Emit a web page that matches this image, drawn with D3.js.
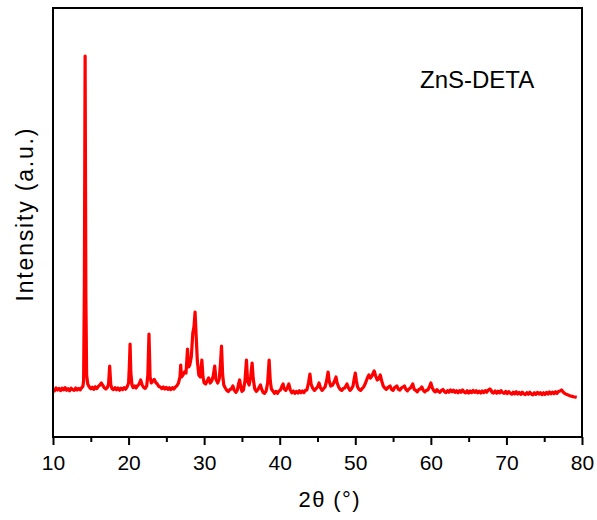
<!DOCTYPE html>
<html>
<head>
<meta charset="utf-8">
<script src="https://cdn.jsdelivr.net/npm/d3@7"></script>
<style>
  html, body { margin: 0; padding: 0; background: #fff; }
  svg { display: block; }
  text { font-family: "Liberation Sans", Arial, Helvetica, sans-serif; fill: #000; }
</style>
</head>
<body>
<svg id="chart" width="597" height="520"></svg>
<script>
// ---- Data (2θ in degrees, intensity in arbitrary units) ----
const seg10to20 = [
  [10.0,478],[10.2,462],[10.4,490],[10.6,470],[10.8,486],[11.0,464],[11.2,488],[11.4,472],[11.6,494],[11.8,468],
  [12.0,484],[12.2,462],[12.4,488],[12.6,474],[12.8,466],[13.0,490],[13.2,470],[13.4,486],[13.6,472],[13.8,494],
  [13.95,505],[14.05,560],[14.15,1500],[14.25,3810],[14.35,1400],[14.45,620],[14.6,530],[14.8,500],[15.0,482],
  [15.2,498],[15.4,476],[15.6,502],[15.8,484],[16.0,506],[16.2,520],[16.4,540],[16.6,515],[16.8,492],[17.0,480],
  [17.2,496],[17.35,530],[17.5,710],[17.65,520],[17.8,484],[18.0,474],[18.2,494],[18.4,472],[18.6,490],[18.8,468],
  [19.0,488],[19.2,474],[19.4,494],[19.6,478],[19.8,500]
];
const seg20to30 = [
  [20.0,540],[20.1,700],[20.2,930],[20.3,640],[20.45,520],[20.6,494],[20.8,510],[21.0,490],[21.2,514],[21.4,530],
  [21.6,570],[21.8,520],[22.0,496],[22.2,486],[22.4,510],[22.55,620],[22.7,1030],[22.85,600],[23.0,540],[23.2,560],
  [23.4,575],[23.6,545],[23.8,530],[24.0,506],[24.2,500],[24.4,484],[24.6,500],[24.8,480],[25.0,496],[25.2,476],
  [25.4,492],[25.6,474],[25.8,494],[26.0,480],[26.2,500],[26.4,512],[26.6,540],[26.8,600],[26.9,720],[27.0,600],
  [27.2,620],[27.4,650],[27.6,640],[27.8,880],[27.95,700],[28.1,720],[28.3,800],[28.5,1040],[28.65,1100],[28.8,1250],
  [28.95,1000],[29.1,760],[29.3,620],[29.5,600],[29.7,770],[29.85,600]
];
const seg30to45 = [
  [30.0,540],[30.2,530],[30.4,560],[30.6,590],[30.8,540],[31.0,560],[31.2,610],[31.4,710],[31.55,580],[31.8,540],
  [32.0,580],[32.15,720],[32.3,910],[32.45,620],[32.6,520],[32.8,490],[33.0,466],[33.2,454],[33.4,474],[33.6,480],
  [33.8,510],[34.0,466],[34.2,446],[34.4,470],[34.55,530],[34.7,570],[34.85,500],[35.0,456],[35.2,470],[35.4,560],
  [35.6,770],[35.75,560],[35.95,520],[36.15,600],[36.35,740],[36.5,580],[36.7,480],[36.9,456],[37.1,474],[37.3,500],
  [37.45,520],[37.6,480],[37.8,446],[38.0,436],[38.2,460],[38.4,540],[38.6,770],[38.75,560],[38.9,480],[39.1,460],
  [39.3,436],[39.5,456],[39.7,436],[39.9,460],[40.1,470],[40.3,510],[40.45,530],[40.6,480],[40.8,466],[41.0,490],
  [41.2,530],[41.4,470],[41.6,442],[41.8,460],[42.0,436],[42.2,456],[42.4,440],[42.6,462],[42.8,442],[43.0,460],
  [43.2,444],[43.4,466],[43.6,470],[43.8,540],[44.0,630],[44.15,530],[44.35,490],[44.6,466],[44.8,484]
];
const seg45to60 = [
  [45.0,500],[45.2,540],[45.4,490],[45.6,466],[45.8,484],[46.0,500],[46.2,560],[46.4,650],[46.55,560],[46.75,510],
  [47.0,520],[47.2,550],[47.45,600],[47.6,540],[47.8,500],[48.0,476],[48.2,466],[48.4,484],[48.6,490],[48.9,530],
  [49.1,490],[49.3,466],[49.5,484],[49.7,510],[49.85,580],[50.0,640],[50.15,560],[50.3,500],[50.5,476],[50.7,466],
  [50.9,484],[51.1,500],[51.3,530],[51.6,590],[51.8,620],[52.0,590],[52.2,610],[52.5,660],[52.7,610],[52.9,570],
  [53.1,580],[53.3,620],[53.5,560],[53.7,510],[53.9,490],[54.1,476],[54.3,494],[54.6,510],[54.8,476],[55.0,466],
  [55.2,494],[55.5,510],[55.7,476],[55.9,468],[56.1,490],[56.3,500],[56.5,510],[56.7,476],[56.9,462],[57.1,480],
  [57.3,490],[57.6,530],[57.8,476],[58.0,466],[58.2,452],[58.4,474],[58.6,480],[58.8,500],[59.0,466],[59.2,452],
  [59.4,466],[59.6,470],[59.8,500]
];
const seg60to80 = [
  [60.0,540],[60.2,490],[60.4,462],[60.6,452],[60.8,474],[61.0,456],[61.2,446],[61.4,466],[61.6,475],[61.8,454],
  [62.0,444],[62.2,464],[62.4,448],[62.6,470],[62.8,452],[63.0,468],[63.2,446],[63.4,462],[63.6,442],[63.8,464],
  [64.0,448],[64.2,470],[64.4,450],[64.6,442],[64.8,462],[65.0,440],[65.2,460],[65.4,444],[65.6,466],[65.8,446],
  [66.0,462],[66.2,442],[66.4,458],[66.6,440],[66.8,460],[67.0,444],[67.2,464],[67.4,448],[67.6,470],[67.8,480],
  [67.95,470],[68.1,446],[68.3,440],[68.5,460],[68.7,438],[68.9,458],[69.1,442],[69.3,464],[69.5,444],[69.7,436],
  [69.9,456],[70.1,434],[70.3,454],[70.5,438],[70.7,428],[70.9,448],[71.1,432],[71.3,452],[71.5,430],[71.7,446],
  [71.9,426],[72.1,448],[72.3,432],[72.5,424],[72.7,444],[72.9,428],[73.1,448],[73.3,430],[73.5,422],[73.7,442],
  [73.9,426],[74.1,446],[74.3,430],[74.5,444],[74.7,424],[74.9,442],[75.1,426],[75.3,446],[75.5,430],[75.7,450],
  [75.9,432],[76.1,448],[76.3,434],[76.5,452],[76.7,436],[76.9,456],[77.1,460],[77.3,470],[77.5,450],[77.7,436],
  [77.9,428],[78.1,422],[78.3,416],[78.5,410],[78.7,406],[78.9,402],[79.1,400],[79.3,396]
];
const xTickValues = [10, 20, 30, 40, 50, 60, 70, 80];
const xMinorTicks = [15, 25, 35, 45, 55, 65, 75];
const xDomain = [10, 80];
const yDomain = [0, 4290];
const sampleLabel = "ZnS-DETA";
const xTitle = "2θ (°)";
const yTitle = "Intensity (a.u.)";

const pattern = [].concat(seg10to20, seg20to30, seg30to45, seg45to60, seg60to80);

// ---- Layout ----
const plot = { left: 53, right: 582, top: 8, bottom: 437 };
const svg = d3.select("#chart");

const x = d3.scaleLinear().domain(xDomain).range([plot.left, plot.right]);
const y = d3.scaleLinear().domain(yDomain).range([plot.bottom, plot.top]);

// data line
const line = d3.line().x(d => x(d[0])).y(d => y(d[1]));
svg.append("path")
  .datum(pattern)
  .attr("fill", "none")
  .attr("stroke", "#ff0000")
  .attr("stroke-width", 3.2)
  .attr("stroke-linejoin", "round")
  .attr("d", line);

// frame
svg.append("rect")
  .attr("x", plot.left).attr("y", plot.top)
  .attr("width", plot.right - plot.left).attr("height", plot.bottom - plot.top)
  .attr("fill", "none").attr("stroke", "#000").attr("stroke-width", 2);

// x axis with major ticks
const xAxis = d3.axisBottom(x).tickValues(xTickValues).tickSize(8).tickPadding(10).tickFormat(d3.format("d"));
const gx = svg.append("g").attr("transform", `translate(0,${plot.bottom})`).call(xAxis);
gx.select(".domain").remove();
gx.selectAll(".tick line").attr("stroke", "#000").attr("stroke-width", 2);
gx.selectAll(".tick text").attr("font-size", 21).attr("font-family", "Liberation Sans, Arial, sans-serif").attr("fill", "#000");

// minor ticks
const xMinor = d3.axisBottom(x).tickValues(xMinorTicks).tickSize(5).tickFormat("");
const gxm = svg.append("g").attr("transform", `translate(0,${plot.bottom})`).call(xMinor);
gxm.select(".domain").remove();
gxm.selectAll(".tick line").attr("stroke", "#000").attr("stroke-width", 2);

// axis titles
svg.append("text")
  .attr("x", 329).attr("y", 507)
  .attr("text-anchor", "middle")
  .attr("font-size", 22)
  .attr("textLength", 61).attr("lengthAdjust", "spacing")
  .text(xTitle);

svg.append("text")
  .attr("transform", "translate(33,215) rotate(-90)")
  .attr("text-anchor", "middle")
  .attr("font-size", 23)
  .attr("textLength", 173).attr("lengthAdjust", "spacing")
  .text(yTitle);

// sample label
svg.append("text")
  .attr("x", 420).attr("y", 88)
  .attr("font-size", 24)
  .text(sampleLabel);
</script>
</body>
</html>
